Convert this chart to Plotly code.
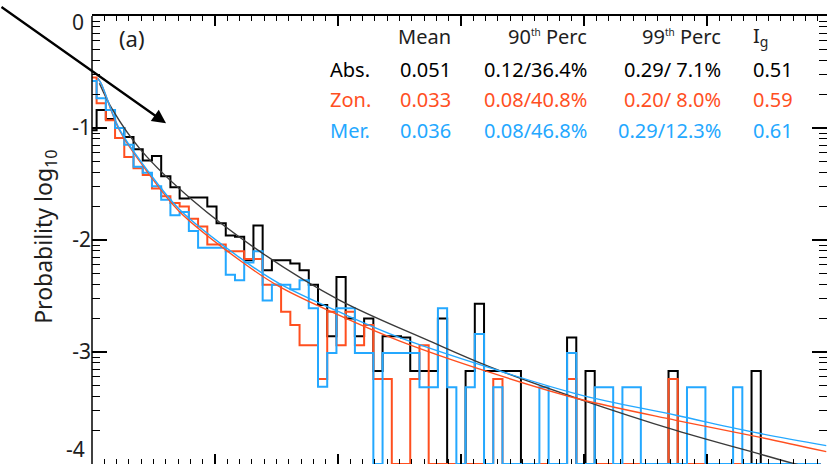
import numpy as np
import plotly.graph_objects as go

# ---------------------------------------------------------------------------
# Histograms of log10 probability, one value per bin (bin k centred on
# k * BIN_WIDTH).  None marks an empty bin, drawn on the floor of the axis.
# ---------------------------------------------------------------------------
BIN_WIDTH = 0.0075
FLOOR = -4.0

abs_log_prob = [
    -1.02, -0.84, -0.92, -1.00, -1.08, -1.19, -1.29, -1.25, -1.43, -1.53,
    -1.63, -1.62, -1.62, -1.70, -1.85, -1.96, -1.97, -2.18, -1.87, -2.27,
    -2.18, -2.18, -2.21, -2.27, -2.40, -2.58, -2.86, -2.33, -2.70, -2.86,
    -2.70, -3.17, -2.86, -2.86, -2.87, -3.17, -3.17, -3.17, -2.70, None,
    None, -3.17, -2.57, -3.17, -3.17, -3.17, -3.17, None, None, None,
    None, None, -2.87, None, -3.17, None, None, None, None, None,
    None, None, None, -3.17, None, None, None, None, None, None,
    None, None, -3.17, None, None, None, None, None, None, None,
]

zon_log_prob = [
    -0.55, -0.78, -0.93, -1.09, -1.26, -1.36, -1.42, -1.54, -1.61, -1.67,
    -1.70, -1.81, -1.88, -2.04, -2.04, -2.10, -2.10, -2.17, -2.17, -2.40,
    -2.40, -2.64, -2.76, -2.94, -2.94, -3.24, -2.64, -2.94, -2.64, -2.94,
    -2.76, -3.24, -3.24, None, None, -3.24, -2.94, None, None, None,
    None, None, None, None, -3.24, None, None, None, None, None,
    None, None, -3.24, None, None, None, None, None, None, None,
    None, None, None, -3.24, None, None, None, None, None, None,
    None, None, None, None, None, None, None, None, None, None,
]

mer_log_prob = [
    -0.58, -0.735, -0.84, -1.00, -1.15, -1.345, -1.40, -1.52, -1.64, -1.78,
    -1.75, -1.92, -2.07, -2.07, -2.07, -2.31, -2.36, -2.20, -2.10, -2.54,
    -2.40, -2.40, -2.44, -2.36, -2.61, -3.31, -3.01, -2.61, -2.61, -3.01,
    -3.01, None, -3.01, -3.01, -3.01, -3.01, -3.315, -3.315, -2.61, -3.315,
    None, -3.315, -2.84, None, -3.315, None, None, None, None, -3.315,
    None, None, -3.01, None, None, -3.315, -3.315, None, -3.315, -3.315,
    None, None, None, None, None, -3.315, -3.315, None, None, None,
    -3.315, None, None, None, None, None, None, None, None, None,
]

# Fitted distributions (x, log10 probability)
abs_fit_x = [0.006, 0.0168, 0.040, 0.0815, 0.1387, 0.2011, 0.2742, 0.323, 0.3962, 0.4748, 0.5425, 0.5687, 0.597]
abs_fit_y = [-0.60, -0.839, -1.20, -1.643, -2.119, -2.536, -2.90, -3.13, -3.42, -3.70, -3.91, -3.99, -4.07]

zon_fit_x = [0.0046, 0.0073, 0.0223, 0.0439, 0.071, 0.1198, 0.1524, 0.2065, 0.2498, 0.323, 0.3962, 0.4748, 0.5425, 0.597]
zon_fit_y = [-0.556, -0.60, -1.02, -1.375, -1.745, -2.179, -2.417, -2.70, -2.90, -3.18, -3.42, -3.61, -3.76, -3.89]

mer_fit_x = [0.0046, 0.0073, 0.0223, 0.0439, 0.071, 0.1198, 0.1524, 0.2065, 0.2498, 0.323, 0.3962, 0.4748, 0.5425, 0.597]
mer_fit_y = [-0.556, -0.60, -1.01, -1.36, -1.725, -2.155, -2.39, -2.67, -2.87, -3.14, -3.38, -3.565, -3.726, -3.836]

# Summary statistics table
row_labels = ["Abs.", "Zon.", "Mer."]
mean_vals = [0.051, 0.033, 0.036]
p90_vals = [0.12, 0.08, 0.08]
p90_pct = [36.4, 40.8, 46.8]
p99_vals = [0.29, 0.20, 0.29]
p99_pct = [7.1, 8.0, 12.3]
ig_vals = [0.51, 0.59, 0.61]

y_inner_labels = [-1, -2, -3]

# ---------------------------------------------------------------------------
BLACK = "#000000"
RED = "#ff4f1f"
BLUE = "#24a8ff"
TEXT = "#1e1e1e"
FONT = "Noto Sans"
row_colors = [BLACK, RED, BLUE]


def hist_xy(values):
    xs = [k * BIN_WIDTH for k in range(len(values))]
    ys = [FLOOR if v is None else v for v in values]
    return xs, ys


fig = go.Figure()

for vals, col in [(abs_log_prob, BLACK), (zon_log_prob, RED), (mer_log_prob, BLUE)]:
    hx, hy = hist_xy(vals)
    fig.add_trace(go.Scatter(x=hx, y=hy, mode="lines", line=dict(color=col, width=2, shape="hvh"),
                             showlegend=False, hoverinfo="skip"))

for fx, fy, col in [(abs_fit_x, abs_fit_y, "#3a3a3a"), (zon_fit_x, zon_fit_y, RED), (mer_fit_x, mer_fit_y, BLUE)]:
    fig.add_trace(go.Scatter(x=fx, y=fy, mode="lines", line=dict(color=col, width=1.4, shape="spline", smoothing=1.0),
                             showlegend=False, hoverinfo="skip"))

# minor ticks of the log axis: log10(m * 10^k)
y_minor = [k + np.log10(m) for k in range(-4, 0) for m in range(2, 10)]

fig.update_layout(
    width=827, height=464,
    margin=dict(l=92, r=0, t=16, b=0, autoexpand=False),
    paper_bgcolor="white", plot_bgcolor="white",
    font=dict(family=FONT, color=TEXT),
    xaxis=dict(
        range=[0, 0.5976], showgrid=False, zeroline=False,
        showline=True, linecolor=BLACK, linewidth=1.5, mirror="ticks",
        ticks="inside", tick0=0, dtick=0.1, ticklen=10, tickwidth=1.5, tickcolor=BLACK,
        minor=dict(ticks="inside", tick0=0, dtick=0.01, ticklen=5, tickwidth=1.3, tickcolor=BLACK),
        showticklabels=False,
    ),
    yaxis=dict(
        range=[-4, 0], showgrid=False, zeroline=False,
        showline=False, mirror="ticks",
        ticks="inside", tickmode="array", tickvals=y_inner_labels,
        ticktext=[str(v) for v in y_inner_labels],
        ticklen=15, tickwidth=1.5, tickcolor=BLACK,
        minor=dict(ticks="inside", tickmode="array", tickvals=y_minor, ticklen=8, tickwidth=1.3, tickcolor=BLACK),
        tickfont=dict(size=21, color=TEXT, family=FONT),
    ),
)

# left axis line
fig.add_shape(type="line", xref="paper", yref="paper", x0=0, x1=0, y0=0, y1=1,
              line=dict(color=BLACK, width=1.5))

# end labels of the y axis
fig.add_annotation(x=-0.008, xref="paper", y=-0.05, yref="y", text="0", showarrow=False,
                   xanchor="right", font=dict(size=21, color=TEXT))
fig.add_annotation(x=-0.008, xref="paper", y=-4.0, yref="y", text="-4", showarrow=False,
                   xanchor="right", yanchor="bottom", borderpad=0, font=dict(size=21, color=TEXT))
fig.add_annotation(x=-0.064, xref="paper", y=0.507, yref="paper", text="Probability log<sub>10</sub>",
                   textangle=-90, showarrow=False, xanchor="center", yanchor="middle",
                   font=dict(size=23, color=TEXT))

# panel label
fig.add_annotation(x=0.0207, y=-0.196, text="(a)", showarrow=False, xanchor="left",
                   font=dict(size=22, color=TEXT))

# arrow
fig.add_annotation(x=0.0602, y=-0.958, ax=-166.7, ay=-117.3, text="", showarrow=True,
                   arrowhead=2, arrowsize=1.2, arrowwidth=2.3, arrowcolor=BLACK, standoff=0)

# statistics table
TS = 20
SUP = "<sup><span style='font-size:10px'>th</span></sup>"
header_y = -0.185
row_y = [-0.482, -0.744, -1.018]
col_label_x = 0.1915
col_mean_x = 0.2937
col_p90_x = 0.4037
col_p99_x = 0.5133
col_ig_x = 0.536

for txt, xx, anc in [("Mean", col_mean_x, "right"), ("90" + SUP + " Perc", col_p90_x, "right"),
                     ("99" + SUP + " Perc", col_p99_x, "right"), ("I<sub>g</sub>", col_ig_x, "left")]:
    fig.add_annotation(x=xx, y=header_y, text=txt, showarrow=False, xanchor=anc,
                       font=dict(size=TS, color=TEXT))

for i, lab in enumerate(row_labels):
    c = row_colors[i]
    yy = row_y[i]
    cells = [
        (lab, col_label_x, "left"),
        (f"{mean_vals[i]:.3f}", col_mean_x, "right"),
        (f"{p90_vals[i]:.2f}/{p90_pct[i]:4.1f}%", col_p90_x, "right"),
        (f"{p99_vals[i]:.2f}/{p99_pct[i]:4.1f}%", col_p99_x, "right"),
        (f"{ig_vals[i]:.2f}", col_ig_x, "left"),
    ]
    for txt, xx, anc in cells:
        fig.add_annotation(x=xx, y=yy, text=txt.replace(" ", "&nbsp;"), showarrow=False, xanchor=anc,
                           font=dict(size=TS, color=c))

fig.write_html("out.html")
